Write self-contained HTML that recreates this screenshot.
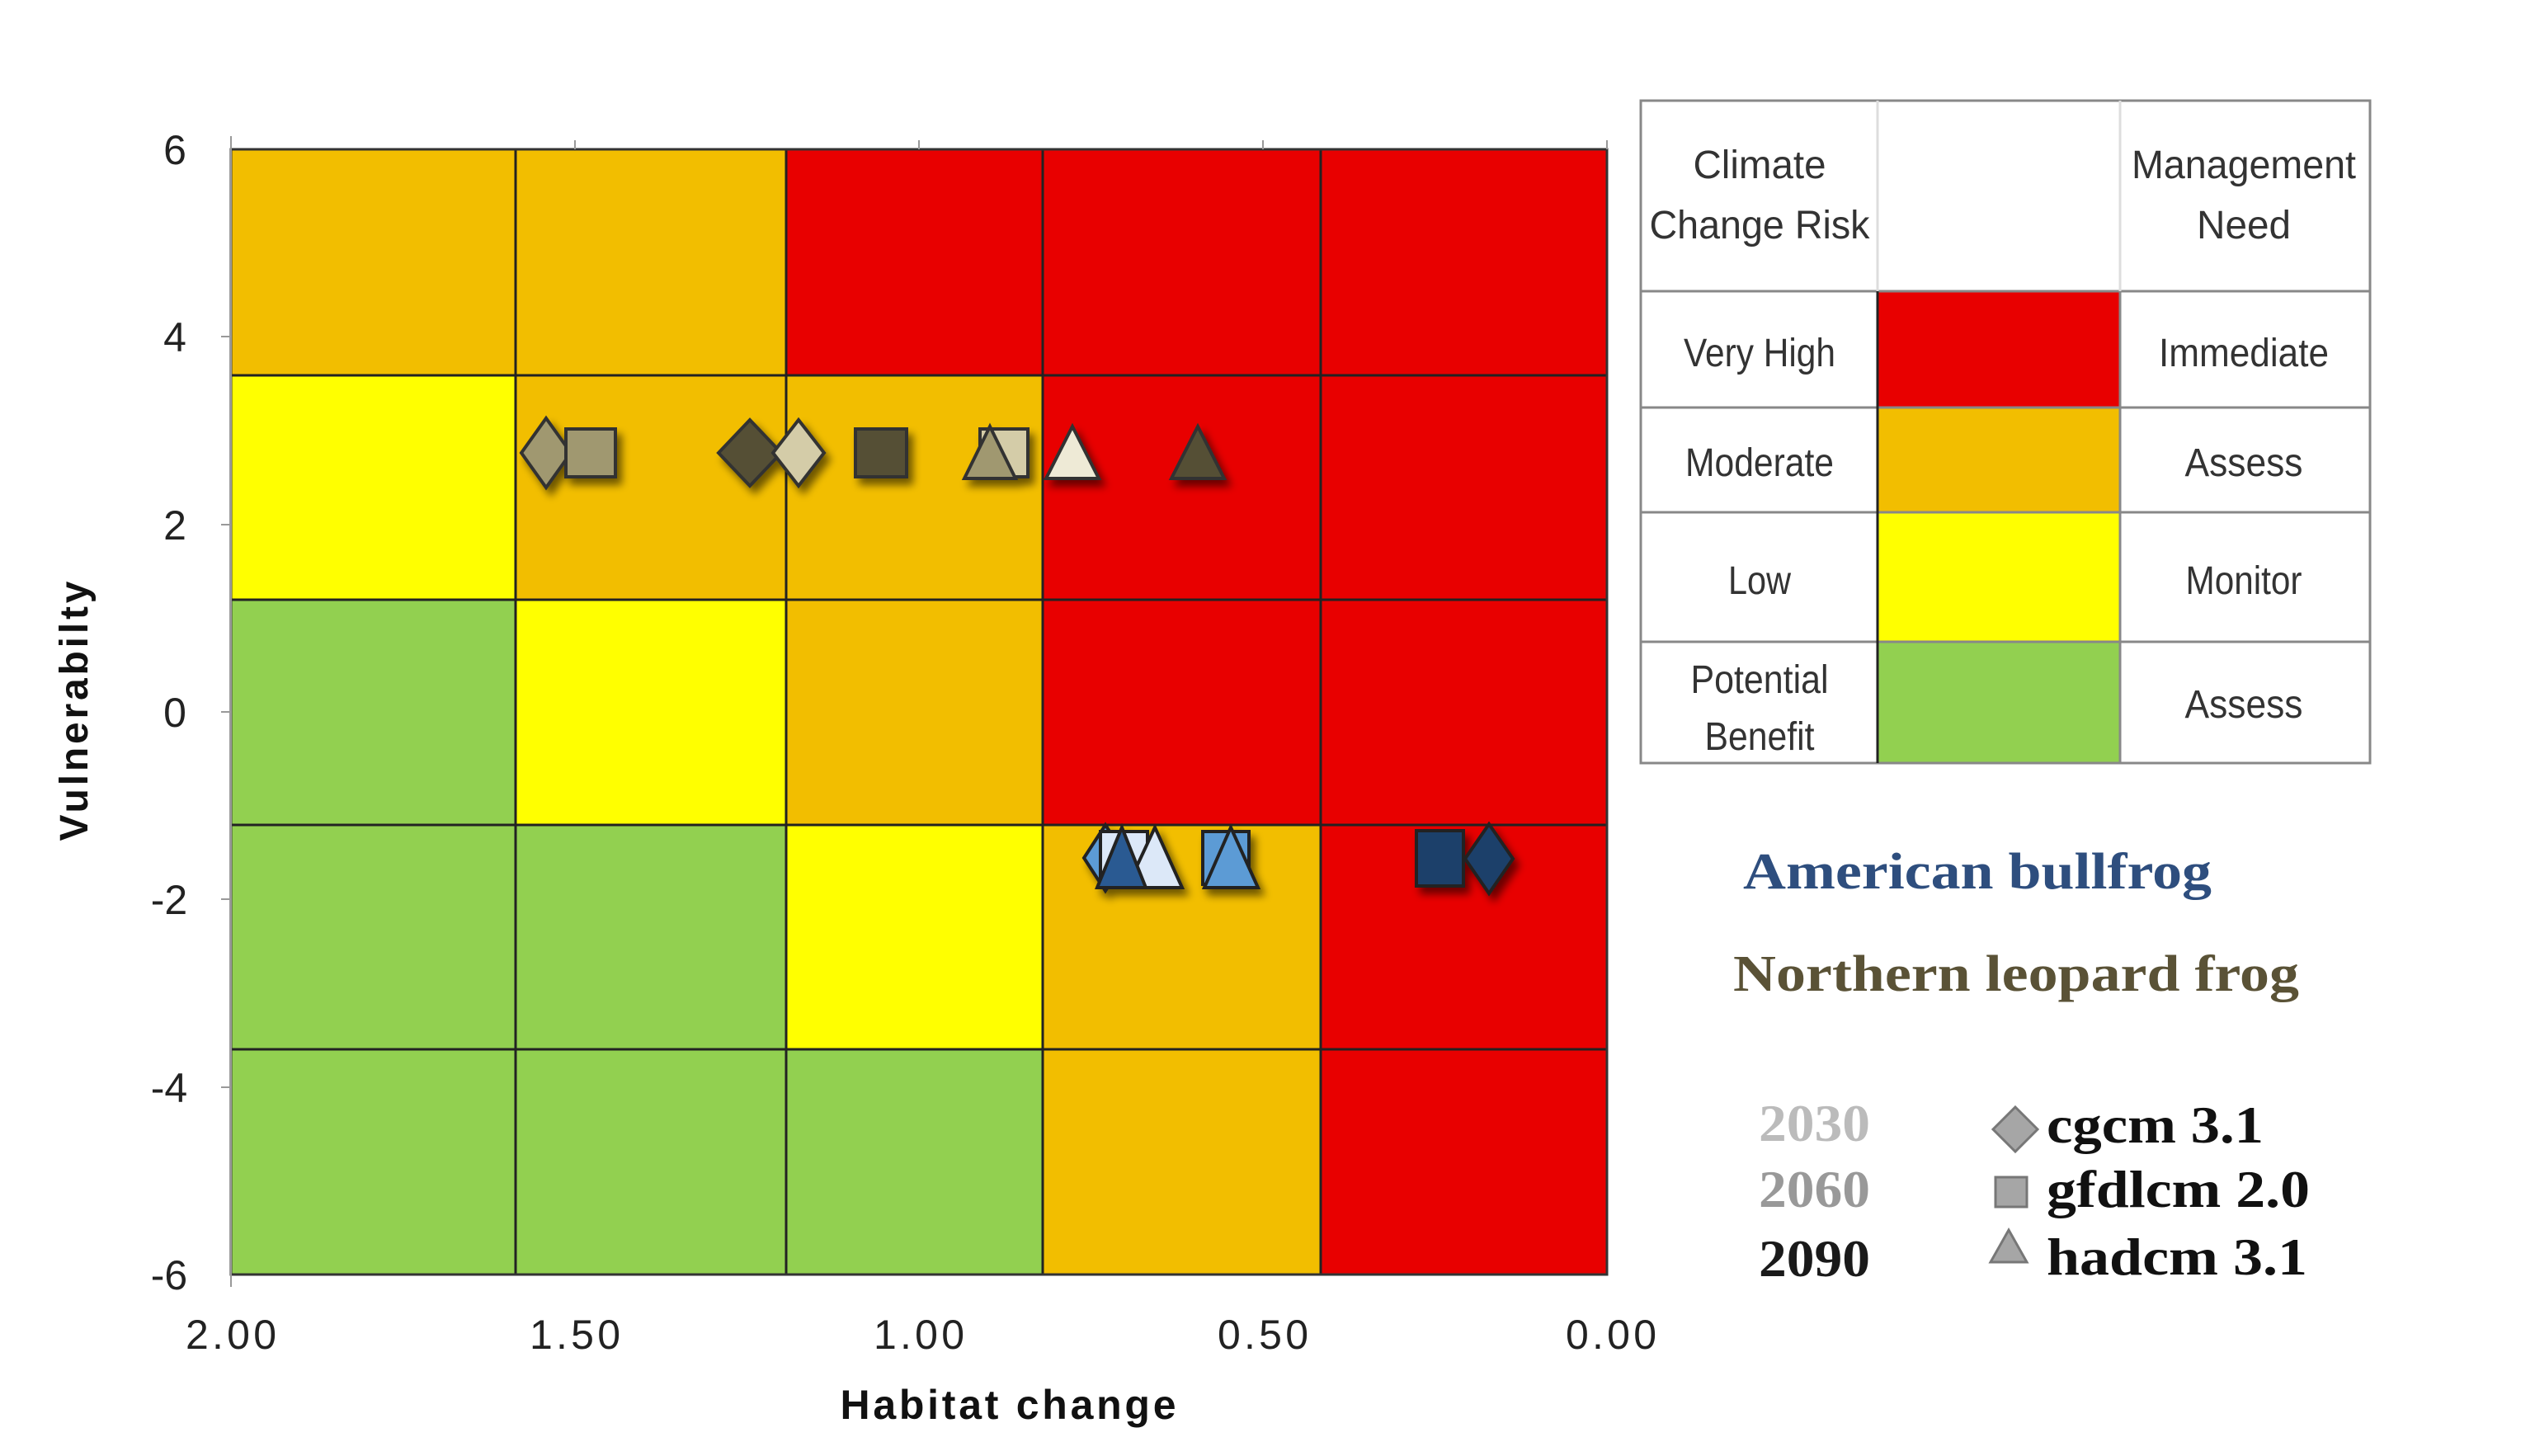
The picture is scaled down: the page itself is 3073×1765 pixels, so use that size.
<!DOCTYPE html>
<html><head><meta charset="utf-8"><style>
html,body{margin:0;padding:0;background:#fff;}
svg{display:block;}
</style></head><body>
<svg width="3073" height="1765" viewBox="0 0 3073 1765" xmlns="http://www.w3.org/2000/svg">
<defs>
<filter id="sh" x="-50%" y="-50%" width="200%" height="200%">
<feGaussianBlur in="SourceAlpha" stdDeviation="5"/>
<feOffset dx="6" dy="8" result="b"/>
<feComponentTransfer><feFuncA type="linear" slope="0.55"/></feComponentTransfer>
<feMerge><feMergeNode/><feMergeNode in="SourceGraphic"/></feMerge>
</filter>
</defs>
<rect width="3073" height="1765" fill="#fff"/>
<g stroke="none">
<rect x="280" y="181" width="345" height="274" fill="#F2BE00"/>
<rect x="625" y="181" width="328" height="274" fill="#F2BE00"/>
<rect x="953" y="181" width="311" height="274" fill="#E80000"/>
<rect x="1264" y="181" width="337" height="274" fill="#E80000"/>
<rect x="1601" y="181" width="347" height="274" fill="#E80000"/>
<rect x="280" y="455" width="345" height="272" fill="#FFFF00"/>
<rect x="625" y="455" width="328" height="272" fill="#F2BE00"/>
<rect x="953" y="455" width="311" height="272" fill="#F2BE00"/>
<rect x="1264" y="455" width="337" height="272" fill="#E80000"/>
<rect x="1601" y="455" width="347" height="272" fill="#E80000"/>
<rect x="280" y="727" width="345" height="273" fill="#92D050"/>
<rect x="625" y="727" width="328" height="273" fill="#FFFF00"/>
<rect x="953" y="727" width="311" height="273" fill="#F2BE00"/>
<rect x="1264" y="727" width="337" height="273" fill="#E80000"/>
<rect x="1601" y="727" width="347" height="273" fill="#E80000"/>
<rect x="280" y="1000" width="345" height="272" fill="#92D050"/>
<rect x="625" y="1000" width="328" height="272" fill="#92D050"/>
<rect x="953" y="1000" width="311" height="272" fill="#FFFF00"/>
<rect x="1264" y="1000" width="337" height="272" fill="#F2BE00"/>
<rect x="1601" y="1000" width="347" height="272" fill="#E80000"/>
<rect x="280" y="1272" width="345" height="273" fill="#92D050"/>
<rect x="625" y="1272" width="328" height="273" fill="#92D050"/>
<rect x="953" y="1272" width="311" height="273" fill="#92D050"/>
<rect x="1264" y="1272" width="337" height="273" fill="#F2BE00"/>
<rect x="1601" y="1272" width="347" height="273" fill="#E80000"/>
</g>
<g stroke="#222" stroke-width="3" fill="none">
<line x1="625" y1="181" x2="625" y2="1545"/>
<line x1="953" y1="181" x2="953" y2="1545"/>
<line x1="1264" y1="181" x2="1264" y2="1545"/>
<line x1="1601" y1="181" x2="1601" y2="1545"/>
<line x1="280" y1="455" x2="1948" y2="455"/>
<line x1="280" y1="727" x2="1948" y2="727"/>
<line x1="280" y1="1000" x2="1948" y2="1000"/>
<line x1="280" y1="1272" x2="1948" y2="1272"/>
<rect x="280" y="181" width="1668" height="1364" stroke="#333"/>
</g>
<g stroke="#999" stroke-width="2">
<line x1="280" y1="165" x2="280" y2="1560"/>
<line x1="697" y1="170" x2="697" y2="181"/>
<line x1="1114" y1="170" x2="1114" y2="181"/>
<line x1="1531" y1="170" x2="1531" y2="181"/>
<line x1="1948" y1="170" x2="1948" y2="181"/>
<line x1="268" y1="408" x2="280" y2="408"/>
<line x1="268" y1="636" x2="280" y2="636"/>
<line x1="268" y1="863" x2="280" y2="863"/>
<line x1="268" y1="1090" x2="280" y2="1090"/>
<line x1="268" y1="1318" x2="280" y2="1318"/>
</g>
<g font-family="Liberation Sans, sans-serif" font-size="50" fill="#222" text-anchor="middle">
<text x="212" y="199">6</text>
<text x="212" y="426">4</text>
<text x="212" y="654">2</text>
<text x="212" y="881">0</text>
<text x="205" y="1108">-2</text>
<text x="205" y="1336">-4</text>
<text x="205" y="1563">-6</text>
<text x="280" y="1635" textLength="110">2.00</text>
<text x="697" y="1635" textLength="110">1.50</text>
<text x="1114" y="1635" textLength="110">1.00</text>
<text x="1531" y="1635" textLength="110">0.50</text>
<text x="1953" y="1635" textLength="110">0.00</text>
</g>
<text x="1222" y="1720" font-family="Liberation Sans, sans-serif" font-weight="bold" font-size="50" text-anchor="middle" fill="#111" textLength="407">Habitat change</text>
<text transform="translate(106,862) rotate(-90)" font-family="Liberation Sans, sans-serif" font-weight="bold" font-size="48" text-anchor="middle" fill="#111" textLength="315">Vulnerabilty</text>

<g filter="url(#sh)" stroke="#333" stroke-width="4">
<path d="M662 507 L692 549 L662 591 L632 549 Z" fill="#A09870"/>
<rect x="686" y="520" width="60" height="58" fill="#A09870"/>
<path d="M909 509 L947 549 L909 589 L871 549 Z" fill="#555035"/>
<path d="M968 509 L999 549 L968 589 L937 549 Z" fill="#D4CCA8"/>
<rect x="1037" y="520" width="62" height="58" fill="#555035"/>
<rect x="1188" y="520" width="58" height="58" fill="#D4CCA8"/>
<path d="M1200 517 L1231 580 L1169 580 Z" fill="#A09870"/>
<path d="M1300 517 L1332 580 L1268 580 Z" fill="#EEEAD6"/>
<path d="M1452 517 L1484 580 L1420 580 Z" fill="#555035"/>
</g>
<g filter="url(#sh)" stroke="#222" stroke-width="4">
<path d="M1340 1000 L1366 1040 L1340 1080 L1314 1040 Z" fill="#5B9BD5"/>
<rect x="1334" y="1008" width="57" height="64" fill="#DCE8F8"/>
<path d="M1400 1003 L1433 1076 L1366 1076 Z" fill="#DCE8F8"/>
<path d="M1360 1003 L1389 1076 L1330 1076 Z" fill="#2A5A92"/>
<rect x="1458" y="1008" width="56" height="64" fill="#5B9BD5"/>
<path d="M1492 1003 L1525 1076 L1460 1076 Z" fill="#5B9BD5"/>
<rect x="1717" y="1007" width="57" height="67" fill="#1F3F6A"/>
<path d="M1805 999 L1834 1041 L1805 1083 L1776 1041 Z" fill="#1F3F6A"/>
</g>

<g>
<rect x="2276" y="353" width="294" height="141" fill="#E80000"/>
<rect x="2276" y="494" width="294" height="127" fill="#F2BE00"/>
<rect x="2276" y="621" width="294" height="157" fill="#FFFF00"/>
<rect x="2276" y="778" width="294" height="147" fill="#92D050"/>
<g stroke="#888" stroke-width="3" fill="none">
<rect x="1989" y="122" width="884" height="803"/>
<line x1="1989" y1="353" x2="2873" y2="353"/>
<line x1="1989" y1="494" x2="2873" y2="494"/>
<line x1="1989" y1="621" x2="2873" y2="621"/>
<line x1="1989" y1="778" x2="2873" y2="778"/>
<line x1="2276" y1="353" x2="2276" y2="925" stroke="#222"/>
<line x1="2570" y1="353" x2="2570" y2="925"/>
<line x1="2276" y1="122" x2="2276" y2="353" stroke="#ddd"/>
<line x1="2570" y1="122" x2="2570" y2="353" stroke="#ddd"/>
</g>
<g font-family="Liberation Sans Narrow, Liberation Sans, sans-serif" font-size="48" fill="#333" text-anchor="middle" lengthAdjust="spacingAndGlyphs">
<text x="2133" y="216" textLength="161" lengthAdjust="spacingAndGlyphs">Climate</text>
<text x="2133" y="289" textLength="267" lengthAdjust="spacingAndGlyphs">Change Risk</text>
<text x="2720" y="216" textLength="272" lengthAdjust="spacingAndGlyphs">Management</text>
<text x="2720" y="289" textLength="114" lengthAdjust="spacingAndGlyphs">Need</text>
<text x="2133" y="444" textLength="184" lengthAdjust="spacingAndGlyphs">Very High</text>
<text x="2720" y="444" textLength="206" lengthAdjust="spacingAndGlyphs">Immediate</text>
<text x="2133" y="577" textLength="180" lengthAdjust="spacingAndGlyphs">Moderate</text>
<text x="2720" y="577" textLength="143" lengthAdjust="spacingAndGlyphs">Assess</text>
<text x="2133" y="720" textLength="76" lengthAdjust="spacingAndGlyphs">Low</text>
<text x="2720" y="720" textLength="141" lengthAdjust="spacingAndGlyphs">Monitor</text>
<text x="2133" y="840" textLength="167" lengthAdjust="spacingAndGlyphs">Potential</text>
<text x="2133" y="909" textLength="133" lengthAdjust="spacingAndGlyphs">Benefit</text>
<text x="2720" y="870" textLength="143" lengthAdjust="spacingAndGlyphs">Assess</text>
</g>
</g>

<text x="2113" y="1077" font-family="Liberation Serif, serif" font-weight="bold" font-size="62" fill="#2E4E7E" textLength="568" lengthAdjust="spacingAndGlyphs">American bullfrog</text>
<text x="2101" y="1201" font-family="Liberation Serif, serif" font-weight="bold" font-size="62" fill="#5A5236" textLength="686" lengthAdjust="spacingAndGlyphs">Northern leopard frog</text>

<g font-family="Liberation Serif, serif" font-weight="bold" font-size="64">
<text x="2132" y="1383" fill="#BBBBBB" textLength="135" lengthAdjust="spacingAndGlyphs">2030</text>
<text x="2132" y="1463" fill="#999999" textLength="135" lengthAdjust="spacingAndGlyphs">2060</text>
<text x="2132" y="1547" fill="#1a1a1a" textLength="135" lengthAdjust="spacingAndGlyphs">2090</text>
<text x="2481" y="1385" fill="#111" textLength="263" lengthAdjust="spacingAndGlyphs">cgcm 3.1</text>
<text x="2481" y="1463" fill="#111" textLength="319" lengthAdjust="spacingAndGlyphs">gfdlcm 2.0</text>
<text x="2481" y="1545" fill="#111" textLength="316" lengthAdjust="spacingAndGlyphs">hadcm 3.1</text>
</g>
<g fill="#A6A6A6" stroke="#777" stroke-width="3">
<path d="M2443 1342 L2470 1369 L2443 1396 L2416 1369 Z"/>
<rect x="2419" y="1427" width="38" height="36"/>
<path d="M2435 1491 L2457 1530 L2413 1530 Z"/>
</g>
</svg>
</body></html>
